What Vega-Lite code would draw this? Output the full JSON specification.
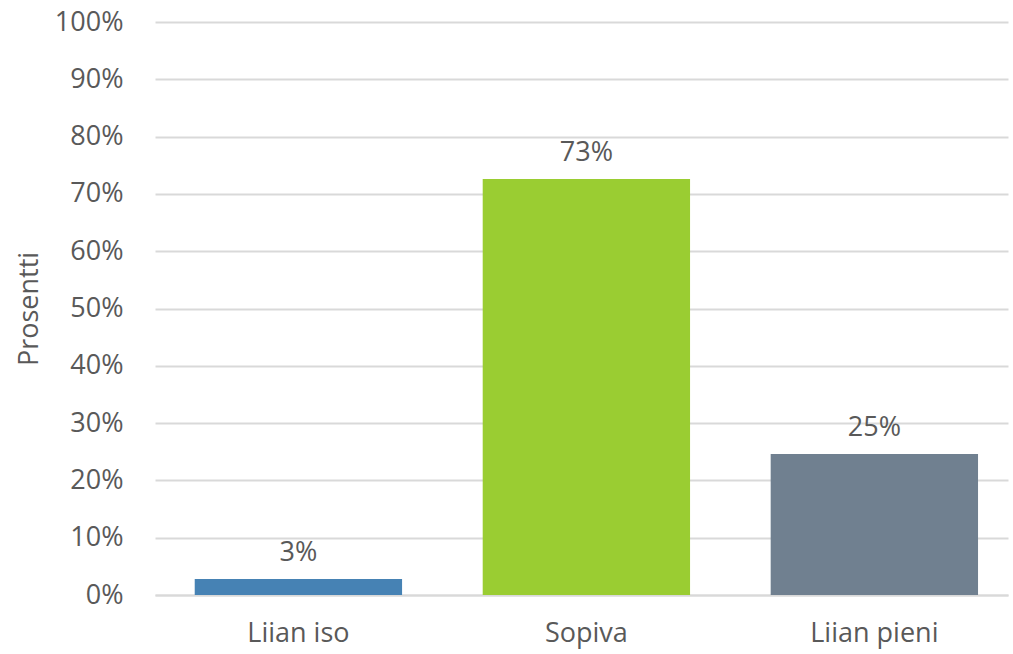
{
  "$schema": "https://vega.github.io/schema/vega-lite/v6.json",
  "autosize": {"type": "none"},
  "width": 853,
  "height": 573,
  "padding": {"left": 155, "top": 22, "right": 5, "bottom": 59},
  "background": "white",
  "config": {
    "view": {"stroke": null},
    "font": "Open Sans"
  },
  "data": {
    "values": [
      {"kategoria": "Liian iso", "osuus": 0.028, "vari": "#4682B4"},
      {"kategoria": "Sopiva", "osuus": 0.726, "vari": "#9ACD32"},
      {"kategoria": "Liian pieni", "osuus": 0.246, "vari": "#708090"}
    ]
  },
  "encoding": {
    "x": {
      "field": "kategoria",
      "type": "nominal",
      "sort": null,
      "scale": {"paddingInner": 0.28, "paddingOuter": 0.121, "align": 0.57},
      "axis": {
        "title": null,
        "labelAngle": 0,
        "labelFontSize": 27,
        "labelColor": "#595959",
        "labelPadding": 25,
        "ticks": false,
        "domainColor": "#d9d9d9",
        "domainWidth": 2
      }
    },
    "y": {
      "field": "osuus",
      "type": "quantitative",
      "scale": {"domain": [0, 1], "nice": false},
      "axis": {
        "title": "Prosentti",
        "titleFontSize": 27,
        "titleFontWeight": "normal",
        "titleColor": "#595959",
        "titlePadding": 11,
        "format": ".0%",
        "values": [0, 0.1, 0.2, 0.3, 0.4, 0.5, 0.6, 0.7, 0.8, 0.9, 1],
        "labelFontSize": 27,
        "labelColor": "#595959",
        "labelPadding": 32,
        "ticks": false,
        "domain": false,
        "gridColor": "#d9d9d9",
        "gridWidth": 2
      }
    }
  },
  "layer": [
    {
      "mark": {"type": "bar"},
      "encoding": {
        "color": {"field": "vari", "type": "nominal", "scale": null}
      }
    },
    {
      "mark": {"type": "text", "baseline": "bottom", "dy": -12, "fontSize": 27, "color": "#595959"},
      "encoding": {
        "text": {"field": "osuus", "type": "quantitative", "format": ".0%"}
      }
    }
  ]
}
